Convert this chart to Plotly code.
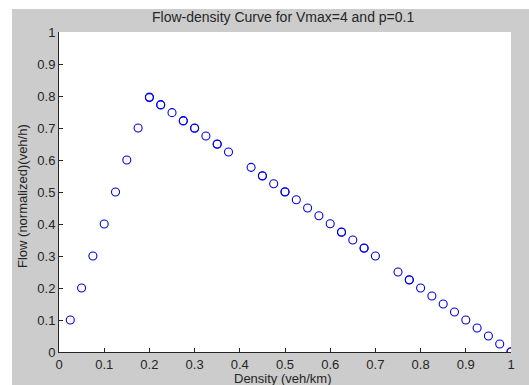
import plotly.graph_objects as go

density = [0.025, 0.05, 0.075, 0.1, 0.125, 0.15, 0.175, 0.2,
           0.225, 0.25, 0.275, 0.3, 0.325, 0.35, 0.375,
           0.425, 0.45, 0.475, 0.5, 0.525, 0.55, 0.575, 0.6, 0.625, 0.65, 0.675, 0.7,
           0.75, 0.775, 0.8, 0.825, 0.85, 0.875, 0.9, 0.925, 0.95, 0.975, 1.0]
flow = [0.1, 0.2, 0.3, 0.4, 0.5, 0.6, 0.7, 0.795,
        0.773, 0.748, 0.723, 0.699, 0.675, 0.65, 0.625,
        0.577, 0.551, 0.526, 0.501, 0.476, 0.45, 0.426, 0.401, 0.375, 0.35, 0.325, 0.3,
        0.25, 0.226, 0.2, 0.175, 0.15, 0.125, 0.1, 0.075, 0.05, 0.025, 0.0]
# repeated runs (overlapping points appear bolder)
density_rep = [0.2, 0.225, 0.275, 0.3, 0.35, 0.45, 0.5, 0.625, 0.675, 0.775, 1.0]
flow_rep = [0.797, 0.772, 0.722, 0.7, 0.649, 0.55, 0.5, 0.374, 0.324, 0.225, 0.001]

x_ticks = [0, 0.1, 0.2, 0.3, 0.4, 0.5, 0.6, 0.7, 0.8, 0.9, 1]
x_ticktext = ["0", "0.1", "0.2", "0.3", "0.4", "0.5", "0.6", "0.7", "0.8", "0.9", "1"]
y_ticks = [0, 0.1, 0.2, 0.3, 0.4, 0.5, 0.6, 0.7, 0.8, 0.9, 1]
y_ticktext = ["0", "0.1", "0.2", "0.3", "0.4", "0.5", "0.6", "0.7", "0.8", "0.9", "1"]

FONT = "Liberation Sans, Arial, sans-serif"
TXT = "#262626"
marker = dict(symbol="circle-open", size=8, color="#0000ff", line=dict(width=1.1, color="#0000ff"))

fig = go.Figure()
fig.add_trace(go.Scatter(x=density, y=flow, mode="markers", marker=marker, showlegend=False, hoverinfo="x+y"))
fig.add_trace(go.Scatter(x=density_rep, y=flow_rep, mode="markers", marker=marker, showlegend=False, hoverinfo="x+y"))

fig.update_layout(
    width=529, height=385,
    margin=dict(l=59, r=18, t=32, b=33, pad=0),
    paper_bgcolor="white",
    plot_bgcolor="white",
    font=dict(family=FONT, size=13, color=TXT),
    shapes=[
        dict(type="rect", xref="paper", yref="paper", x0=-0.104, x1=1.06, y0=-0.12, y1=1.072,
             fillcolor="#cccccc", line=dict(width=0), layer="below"),
        dict(type="rect", xref="paper", yref="paper", x0=0, x1=1, y0=0, y1=1,
             fillcolor="white", line=dict(width=0), layer="below"),
    ],
    annotations=[
        dict(text="Flow-density Curve for Vmax=4 and p=0.1", xref="paper", yref="paper",
             x=(283 - 59) / 452, y=(352 - 17) / 320, xanchor="center", yanchor="middle", showarrow=False,
             font=dict(size=14, color=TXT, family=FONT)),
        dict(text="Density (veh/km)", xref="paper", yref="paper",
             x=(283 - 59) / 452, y=(352 - 378) / 320, xanchor="center", yanchor="middle", showarrow=False,
             font=dict(size=13, color=TXT, family=FONT)),
        dict(text="Flow (normalized)(veh/h)", xref="paper", yref="paper",
             x=(22 - 59) / 452, y=(352 - 196) / 320, xanchor="center", yanchor="middle", showarrow=False,
             textangle=-90, font=dict(size=13, color=TXT, family=FONT)),
    ],
)
fig.update_xaxes(range=[0, 1], tickvals=x_ticks, ticktext=x_ticktext, ticks="inside", ticklen=4,
                 tickcolor=TXT, showline=True, linecolor=TXT, linewidth=1, mirror=False,
                 showgrid=False, zeroline=False, tickfont=dict(size=13, color=TXT))
fig.update_yaxes(range=[0, 1], tickvals=y_ticks, ticktext=y_ticktext, ticks="inside", ticklen=4,
                 tickcolor=TXT, showline=True, linecolor=TXT, linewidth=1, mirror=False,
                 showgrid=False, zeroline=False, tickfont=dict(size=13, color=TXT))

fig.write_html("out.html", config={"displayModeBar": False},
               post_script="document.body.style.margin='0';document.body.style.overflow='hidden';")
